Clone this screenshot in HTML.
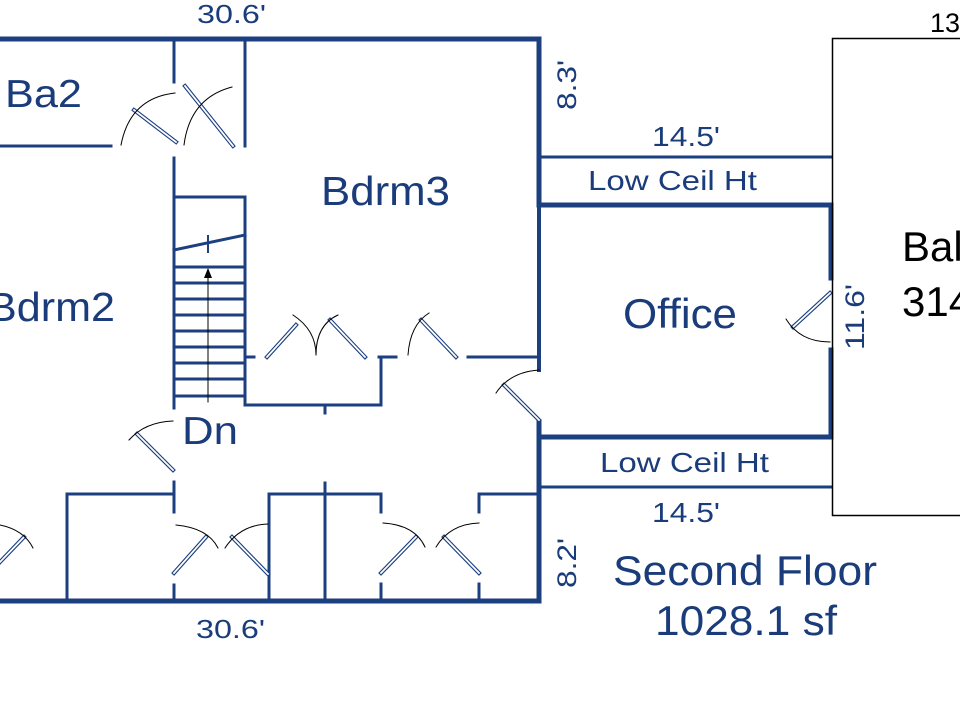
<!DOCTYPE html>
<html><head><style>html,body{margin:0;padding:0;background:#fff;width:960px;height:720px;overflow:hidden}</style></head>
<body>
<svg width="960" height="720" viewBox="0 0 960 720" xmlns="http://www.w3.org/2000/svg" font-family="Liberation Sans, sans-serif">
<g stroke="#1c3f7f" fill="none" stroke-linecap="square">
<line x1="0" y1="39" x2="539" y2="39" stroke-width="5"/>
<line x1="0" y1="601" x2="539" y2="601" stroke-width="5"/>
<line x1="539" y1="39" x2="539" y2="205" stroke-width="5"/>
<line x1="539" y1="205" x2="539" y2="370" stroke-width="4"/>
<line x1="539" y1="422" x2="539" y2="601" stroke-width="5"/>
<line x1="539" y1="205" x2="831" y2="205" stroke-width="5"/>
<line x1="539" y1="437" x2="831" y2="437" stroke-width="5"/>
<line x1="831" y1="205" x2="831" y2="278" stroke-width="5"/>
<line x1="831" y1="350" x2="831" y2="437" stroke-width="5"/>
<line x1="539" y1="157" x2="831" y2="157" stroke-width="3"/>
<line x1="539" y1="487" x2="831" y2="487" stroke-width="3"/>
<g stroke-width="3">
<line x1="0" y1="146" x2="111" y2="146"/>
<line x1="174" y1="41" x2="174" y2="82"/>
<line x1="174" y1="158" x2="174" y2="408"/>
<line x1="245" y1="41" x2="245" y2="146"/>
<line x1="245" y1="197" x2="245" y2="405"/>
<line x1="174" y1="197" x2="245" y2="197"/>
<line x1="174" y1="250" x2="245" y2="235"/>
<line x1="208" y1="236" x2="208" y2="252" stroke-width="2"/>
<line x1="245" y1="357" x2="254" y2="357"/>
<line x1="379" y1="357" x2="396" y2="357"/>
<line x1="468" y1="357" x2="539" y2="357"/>
<line x1="381" y1="357" x2="381" y2="405"/>
<line x1="245" y1="405" x2="381" y2="405"/>
<line x1="325" y1="405" x2="325" y2="413"/>
<line x1="67" y1="494" x2="174" y2="494"/>
<line x1="67" y1="494" x2="67" y2="600"/>
<line x1="174" y1="482" x2="174" y2="512"/>
<line x1="174" y1="585" x2="174" y2="600"/>
<line x1="269" y1="494" x2="381" y2="494"/>
<line x1="269" y1="494" x2="269" y2="600"/>
<line x1="325" y1="483" x2="325" y2="600"/>
<line x1="381" y1="494" x2="381" y2="512"/>
<line x1="381" y1="584" x2="381" y2="600"/>
<line x1="479" y1="494" x2="539" y2="494"/>
<line x1="479" y1="494" x2="479" y2="512"/>
<line x1="479" y1="584" x2="479" y2="600"/>
</g>
<g stroke-width="3">
<line x1="174" y1="267" x2="245" y2="267"/><line x1="174" y1="283" x2="245" y2="283"/>
<line x1="174" y1="299" x2="245" y2="299"/><line x1="174" y1="315" x2="245" y2="315"/>
<line x1="174" y1="331" x2="245" y2="331"/><line x1="174" y1="347" x2="245" y2="347"/>
<line x1="174" y1="363" x2="245" y2="363"/><line x1="174" y1="379" x2="245" y2="379"/>
<line x1="174" y1="396" x2="245" y2="396"/>
</g>
<line x1="208" y1="402" x2="208" y2="275" stroke="#000" stroke-width="1"/>
<polygon points="208,268 204,278 212,278" fill="#000" stroke="none"/>
<g stroke-width="4">
<line x1="134" y1="110" x2="176" y2="142"/><line x1="185" y1="86" x2="233" y2="146"/>
<line x1="267" y1="357" x2="296" y2="325"/><line x1="330" y1="320" x2="365" y2="357"/>
<line x1="421" y1="320" x2="456" y2="357"/><line x1="504" y1="385" x2="539" y2="420"/>
<line x1="137" y1="434" x2="173" y2="470"/>
<line x1="174" y1="573" x2="206" y2="537"/><line x1="232" y1="537" x2="268" y2="574"/>
<line x1="381" y1="573" x2="416" y2="537"/><line x1="444" y1="537" x2="479" y2="573"/>
<line x1="0" y1="562" x2="24" y2="537"/><line x1="793" y1="327" x2="830" y2="293"/>
</g>
<g stroke="#fff" stroke-width="1.8">
<line x1="134" y1="110" x2="176" y2="142"/><line x1="185" y1="86" x2="233" y2="146"/>
<line x1="267" y1="357" x2="296" y2="325"/><line x1="330" y1="320" x2="365" y2="357"/>
<line x1="421" y1="320" x2="456" y2="357"/><line x1="504" y1="385" x2="539" y2="420"/>
<line x1="137" y1="434" x2="173" y2="470"/>
<line x1="174" y1="573" x2="206" y2="537"/><line x1="232" y1="537" x2="268" y2="574"/>
<line x1="381" y1="573" x2="416" y2="537"/><line x1="444" y1="537" x2="479" y2="573"/>
<line x1="0" y1="562" x2="24" y2="537"/><line x1="793" y1="327" x2="830" y2="293"/>
</g>
<g stroke="#000" stroke-width="1">
<path d="M121,145 Q130,98 175,93"/><path d="M184,145 Q190,98 232,87"/>
<path d="M293,315 Q316,330 316,355"/><path d="M316,355 Q316,325 338,315"/>
<path d="M408,355 Q410,325 429,313"/><path d="M496,393 Q510,372 539,370"/>
<path d="M129,440 Q145,422 173,421"/>
<path d="M176,525 Q208,528 218,548"/><path d="M225,548 Q240,525 268,524"/>
<path d="M383,523 Q415,525 425,547"/><path d="M436,547 Q450,524 479,523"/>
<path d="M0,525 Q24,530 33,548"/><path d="M786,319 Q800,342 830,342"/>
</g>
</g>
<rect x="832.5" y="38.5" width="140" height="477" fill="none" stroke="#000" stroke-width="1.5"/>
<text x="902" y="261" font-size="42" fill="#000">Bal</text>
<text x="902" y="316" font-size="42" fill="#000">314</text>
<text x="930" y="32" font-size="27" fill="#000">13</text>
<g fill="#1a3c7a">
<text x="197" y="23" font-size="26" textLength="69" lengthAdjust="spacingAndGlyphs">30.6'</text>
<text x="196" y="638" font-size="26" textLength="69" lengthAdjust="spacingAndGlyphs">30.6'</text>
<text x="5" y="107" font-size="39" textLength="77" lengthAdjust="spacingAndGlyphs">Ba2</text>
<text x="321" y="205" font-size="41" textLength="129" lengthAdjust="spacingAndGlyphs">Bdrm3</text>
<text x="-12" y="321" font-size="41" textLength="127" lengthAdjust="spacingAndGlyphs">Bdrm2</text>
<text x="182" y="444" font-size="39" textLength="56" lengthAdjust="spacingAndGlyphs">Dn</text>
<text x="623" y="328" font-size="42" textLength="114" lengthAdjust="spacingAndGlyphs">Office</text>
<text x="588" y="190" font-size="28" textLength="169" lengthAdjust="spacingAndGlyphs">Low Ceil Ht</text>
<text x="600" y="472" font-size="28" textLength="169" lengthAdjust="spacingAndGlyphs">Low Ceil Ht</text>
<text x="652" y="146" font-size="28" textLength="68" lengthAdjust="spacingAndGlyphs">14.5'</text>
<text x="652" y="522" font-size="28" textLength="68" lengthAdjust="spacingAndGlyphs">14.5'</text>
<text transform="translate(576,110) rotate(-90)" font-size="27" textLength="50" lengthAdjust="spacingAndGlyphs">8.3'</text>
<text transform="translate(864,350) rotate(-90)" font-size="27" textLength="66" lengthAdjust="spacingAndGlyphs">11.6'</text>
<text transform="translate(576,588) rotate(-90)" font-size="27" textLength="50" lengthAdjust="spacingAndGlyphs">8.2'</text>
<text x="613" y="585" font-size="42" textLength="264" lengthAdjust="spacingAndGlyphs">Second Floor</text>
<text x="655" y="635" font-size="42" textLength="182" lengthAdjust="spacingAndGlyphs">1028.1 sf</text>
</g>
</svg>
</body></html>
